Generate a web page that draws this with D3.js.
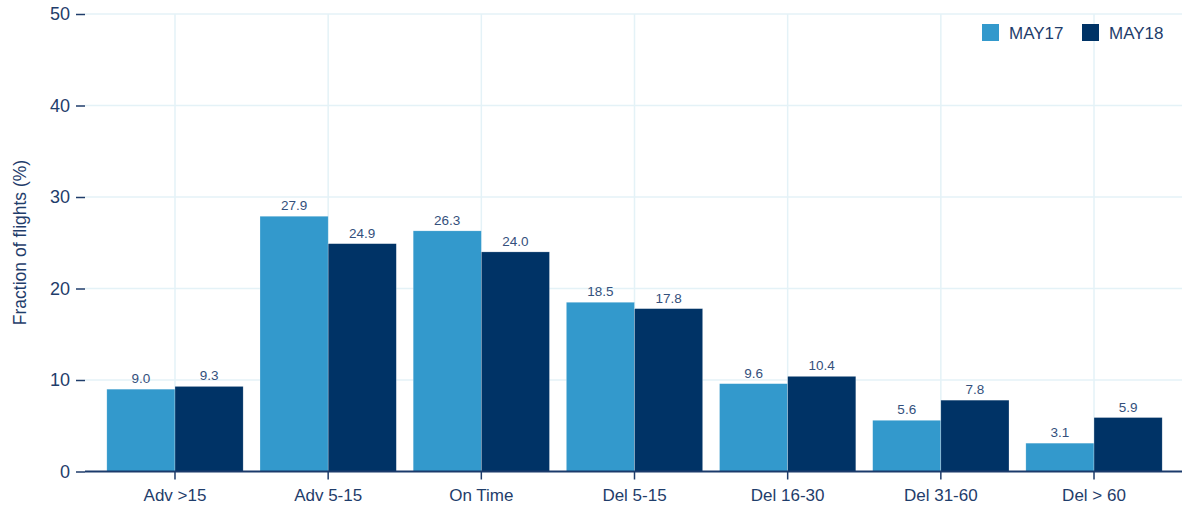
<!DOCTYPE html>
<html>
<head>
<meta charset="utf-8">
<script src="https://cdn.jsdelivr.net/npm/d3@7"></script>
<style>
  body { margin: 0; background: #fff; }
  svg { display: block; font-family: "Liberation Sans", Arial, sans-serif; }
</style>
</head>
<body>
<svg id="chart" width="1182" height="514"></svg>
<script>
// categories and series
const categories = ['Adv >15', 'Adv 5-15', 'On Time', 'Del 5-15', 'Del 16-30', 'Del 31-60', 'Del > 60'];
const seriesNames = ['MAY17', 'MAY18'];
const may17 = [9.0, 27.9, 26.3, 18.5, 9.6, 5.6, 3.1];
const may18 = [9.3, 24.9, 24.0, 17.8, 10.4, 7.8, 5.9];
const yTicks = [0, 10, 20, 30, 40, 50];

const colors = { MAY17: '#3399cc', MAY18: '#003366' };
const textColor = '#1f3d6b';

const svg = d3.select('#chart');
const plotLeft = 85, plotRight = 1182;

const x = d3.scaleBand().domain(categories).range([98.4, 1170.6]).paddingInner(0.11).paddingOuter(0.055);
const xs = d3.scaleBand().domain(seriesNames).range([0, x.bandwidth()]);
const y = d3.scaleLinear().domain([0, 50]).range([471.5, 14]);

// gridlines
svg.append('g').selectAll('line').data(yTicks.slice(1)).join('line')
  .attr('x1', plotLeft).attr('x2', plotRight)
  .attr('y1', d => y(d)).attr('y2', d => y(d))
  .attr('stroke', '#e4f2f7').attr('stroke-width', 1.5);
svg.append('g').selectAll('line').data(categories).join('line')
  .attr('x1', d => x(d) + x.bandwidth() / 2).attr('x2', d => x(d) + x.bandwidth() / 2)
  .attr('y1', y(50)).attr('y2', y(0))
  .attr('stroke', '#e4f2f7').attr('stroke-width', 1.5);

// bars
const rows = categories.map((c, i) => ({ cat: c, vals: [
  { s: 'MAY17', v: may17[i] }, { s: 'MAY18', v: may18[i] }
]}));

const grp = svg.append('g').selectAll('g').data(rows).join('g')
  .attr('transform', d => `translate(${x(d.cat)},0)`);

grp.selectAll('rect').data(d => d.vals).join('rect')
  .attr('x', d => xs(d.s)).attr('width', xs.bandwidth())
  .attr('y', d => y(d.v)).attr('height', d => y(0) - y(d.v))
  .attr('fill', d => colors[d.s])
  .attr('stroke', '#ffffff').attr('stroke-width', 0.5).attr('stroke-opacity', 0.5);

grp.selectAll('text').data(d => d.vals).join('text')
  .attr('x', d => xs(d.s) + xs.bandwidth() / 2)
  .attr('y', d => y(d.v) - 6)
  .attr('text-anchor', 'middle')
  .attr('font-size', 13.5).attr('fill', '#34507c')
  .text(d => d.v.toFixed(1));

// x axis
const xAxis = svg.append('g').attr('transform', `translate(0,${y(0)})`)
  .call(d3.axisBottom(x).tickSize(8).tickPadding(9));
xAxis.select('.domain').remove();
xAxis.selectAll('line').attr('stroke', textColor).attr('stroke-width', 1.5);
xAxis.selectAll('text').attr('font-size', 17).attr('fill', textColor)
  .attr('font-family', '"Liberation Sans", Arial, sans-serif');
svg.append('line').attr('x1', plotLeft).attr('x2', plotRight)
  .attr('y1', y(0)).attr('y2', y(0))
  .attr('stroke', '#1b3a6b').attr('stroke-width', 2);

// y axis
const yAxis = svg.append('g').attr('transform', `translate(${plotLeft},0)`)
  .call(d3.axisLeft(y).tickValues(yTicks).tickSize(9).tickPadding(6));
yAxis.select('.domain').remove();
yAxis.selectAll('line').attr('stroke', textColor).attr('stroke-width', 1.5);
yAxis.selectAll('text').attr('font-size', 18).attr('fill', textColor)
  .attr('font-family', '"Liberation Sans", Arial, sans-serif');

svg.append('text')
  .attr('transform', 'translate(26,242.5) rotate(-90)')
  .attr('text-anchor', 'middle')
  .attr('font-size', 17.5).attr('fill', textColor)
  .text('Fraction of flights (%)');

// legend
const legendX = [982, 1082];
const leg = svg.append('g').selectAll('g').data(seriesNames).join('g')
  .attr('transform', (d, i) => `translate(${legendX[i]},24)`);
leg.append('rect').attr('width', 17).attr('height', 17)
  .attr('fill', d => colors[d]);
leg.append('text').attr('x', 27).attr('y', 14.5)
  .attr('font-size', 17).attr('fill', textColor).text(d => d);
</script>
</body>
</html>
